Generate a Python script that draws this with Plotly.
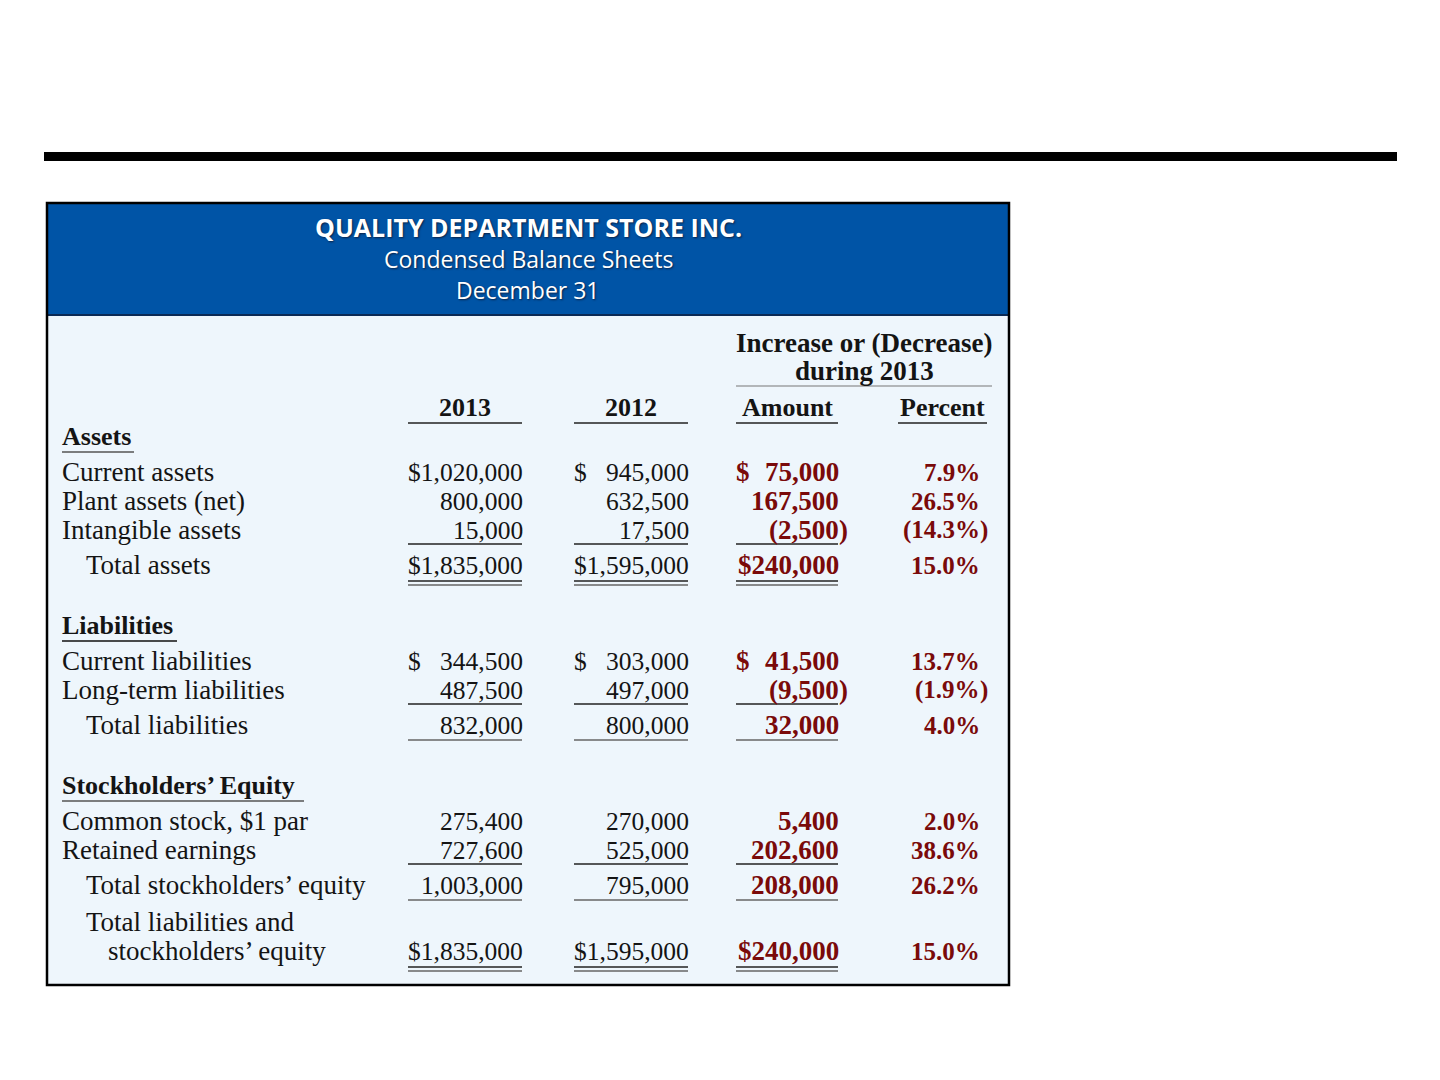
import plotly.graph_objects as go

title_lines = ["QUALITY DEPARTMENT STORE INC.", "Condensed Balance Sheets", "December 31"]
change_header = ["Increase or (Decrease)", "during 2013"]
column_names = ["2013", "2012", "Amount", "Percent"]
section_names = ["Assets", "Liabilities", "Stockholders’ Equity"]

row_labels = [
    "Current assets", "Plant assets (net)", "Intangible assets", "Total assets",
    "Current liabilities", "Long-term liabilities", "Total liabilities",
    "Common stock, $1 par", "Retained earnings", "Total stockholders’ equity",
    "Total liabilities and<br>stockholders’ equity",
]
row_section = [0, 0, 0, 0, 1, 1, 1, 2, 2, 2, 2]
row_is_total = [False, False, False, True, False, False, True, False, False, True, True]
dollar_rows = [0, 3, 4, 10]

values_2013 = [1020000, 800000, 15000, 1835000, 344500, 487500, 832000, 275400, 727600, 1003000, 1835000]
values_2012 = [945000, 632500, 17500, 1595000, 303000, 497000, 800000, 270000, 525000, 795000, 1595000]
change_amount = [75000, 167500, -2500, 240000, 41500, -9500, 32000, 5400, 202600, 208000, 240000]
change_percent = [7.9, 26.5, -14.3, 15.0, 13.7, -1.9, 4.0, 2.0, 38.6, 26.2, 15.0]

# page geometry (pixels, y grows downward); the page body has an 8px margin
W, H = 1440, 1080
OFF = 8
box_l, box_r, box_t, box_b = 47, 1009, 203, 985
band_b = 315
col_left = [408, 574, 736, 898]
col_right = [522, 688, 838, 979]
label_x, total_x = 62, 86
section_rule = [72, 115, 242]

BLUE = "#0054a6"
BODY = "#eef6fc"
RED = "#7a0a0a"
INK = "#141414"
SERIF = "Liberation Serif"
SANS = "Open Sans"

fig = go.Figure()
ann = []
shapes = []


def text(x, y, s, size=25, color=INK, bold=False, anchor="left", family=SERIF, shadow=None):
    f = dict(family=family, size=size, color=color, weight="bold" if bold else "normal")
    if shadow:
        f["shadow"] = shadow
    # small nudge to cancel the annotation box padding
    nudge = {"left": -2, "right": 3, "center": 0}[anchor]
    ann.append(dict(x=x + nudge, y=y, xref="x", yref="y", text=s, showarrow=False,
                    xanchor=anchor, yanchor="middle", font=f, align="left"))


def rule(x0, x1, y, color="#222", width=1.5):
    shapes.append(dict(type="line", xref="x", yref="y", x0=x0, x1=x1, y0=y, y1=y,
                       line=dict(color=color, width=width)))


# background blocks
shapes.append(dict(type="rect", xref="x", yref="y", x0=44, x1=1397, y0=152, y1=161,
                   fillcolor="black", line_width=0, layer="below"))
shapes.append(dict(type="rect", xref="x", yref="y", x0=box_l, x1=box_r, y0=box_t, y1=box_b,
                   fillcolor=BODY, line_width=0, layer="below"))
shapes.append(dict(type="rect", xref="x", yref="y", x0=box_l, x1=box_r, y0=box_t, y1=band_b,
                   fillcolor=BLUE, line_width=0, layer="below"))
rule(box_l, box_r, band_b, color="#0a2a55", width=2)
shapes.append(dict(type="rect", xref="x", yref="y", x0=box_l, x1=box_r, y0=box_t, y1=box_b,
                   fillcolor="rgba(0,0,0,0)", line=dict(color="black", width=2.5)))

# title band
mid = 528
shadow = "1px 1px 2px #0b2347"
text(mid, 227, title_lines[0], size=25, color="white", bold=True, anchor="center", family=SANS, shadow=shadow)
text(mid, 259, title_lines[1], size=23, color="white", anchor="center", family=SANS, shadow=shadow)
text(mid, 290, title_lines[2], size=23, color="white", anchor="center", family=SANS, shadow=shadow)

# column headings
grp_mid = (col_left[2] + 992) / 2
text(grp_mid, 343, change_header[0], size=27, bold=True, anchor="center")
text(grp_mid, 371, change_header[1], size=27, bold=True, anchor="center")
rule(col_left[2], 992, 386, color="#777", width=1.2)
for i, name in enumerate(column_names):
    cx = (col_left[i] + col_right[i]) / 2 if i < 3 else 942
    text(cx, 407, name, size=26, bold=True, anchor="center")
    x1 = col_right[i] if i < 3 else 987
    rule(col_left[i], x1, 423)


def fmt_money(v):
    s = f"{abs(v):,.0f}"
    return f"({s}" if v < 0 else s


# row positions from the row structure
row_y = []
section_y = []
y = 436
prev = None
for i in range(len(row_labels)):
    if prev is None or row_section[i] != row_section[prev]:
        if prev is not None:
            y += 60
        section_y.append(y)
        y += 36
    elif row_is_total[i]:
        y += 37 if row_is_total[prev] else 35
        if "<br>" in row_labels[i]:
            y += 29
    else:
        y += 29
    row_y.append(y)
    prev = i

for s, name in enumerate(section_names):
    text(label_x, section_y[s], name, size=26, bold=True)
    rule(label_x, label_x + section_rule[s], section_y[s] + 16, color="#555" if s != 1 else "#111")

money_cols = [values_2013, values_2012, change_amount]
widest = [max(len(fmt_money(v)) for v in col) for col in money_cols]
LABEL_SIZE = 27

for i, label in enumerate(row_labels):
    yy = row_y[i]
    if "<br>" in label:
        first, second = label.split("<br>")
        text(total_x, yy - 29, first, size=LABEL_SIZE)
        text(total_x + 22, yy, second, size=LABEL_SIZE)
    else:
        text(total_x if row_is_total[i] else label_x, yy, label, size=LABEL_SIZE)

    for c, col in enumerate(money_cols):
        red = c == 2
        color = RED if red else INK
        size = 27 if red else 25.5
        s = fmt_money(col[i])
        if i in dollar_rows:
            if len(s) == widest[c]:
                s = "$" + s
            else:
                text(col_left[c], yy, "$", size=size, color=color, bold=red)
        text(col_right[c], yy, s, size=size, color=color, bold=red, anchor="right")
        if col[i] < 0:
            text(col_right[c] + 1, yy, ")", size=size, color=color, bold=red)

        # rules
        if row_is_total[i] and not row_is_total[i - 1]:
            rule(col_left[c], col_right[c], yy - 21)
        if row_is_total[i]:
            if i in dollar_rows:
                rule(col_left[c], col_right[c], yy + 16, color="#222")
                rule(col_left[c], col_right[c], yy + 20, color="#666")
            else:
                rule(col_left[c], col_right[c], yy + 15, color="#666")

    p = change_percent[i]
    ps = f"({abs(p):.1f}%" if p < 0 else f"{p:.1f}%"
    text(col_right[3], yy, ps, size=25, color=RED, bold=True, anchor="right")
    if p < 0:
        text(col_right[3] + 1, yy, ")", size=25, color=RED, bold=True)

fig.update_layout(
    width=W, height=H,
    margin=dict(l=0, r=0, t=0, b=0),
    paper_bgcolor="white", plot_bgcolor="white",
    xaxis=dict(range=[OFF, W + OFF], visible=False, fixedrange=True),
    yaxis=dict(range=[H + OFF, OFF], visible=False, fixedrange=True),
    showlegend=False,
    annotations=ann,
    shapes=shapes,
)

fig.write_html("out.html")
